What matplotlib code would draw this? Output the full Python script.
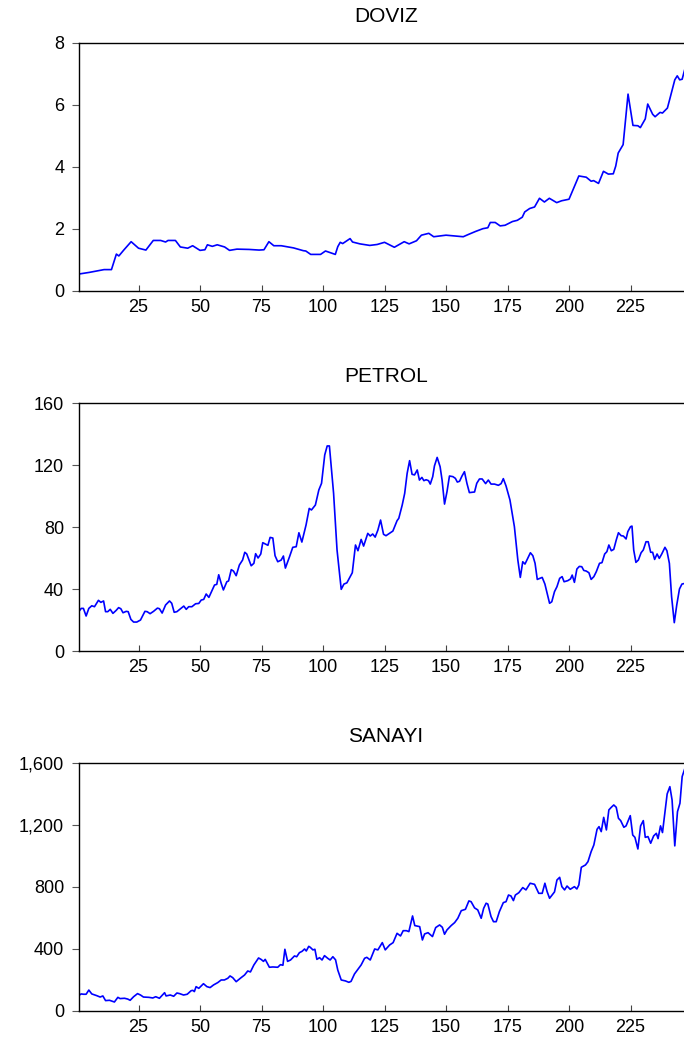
import matplotlib
matplotlib.use("Agg")
import matplotlib.pyplot as plt
from matplotlib.ticker import FuncFormatter

# DOVIZ
doviz_obs = [1, 5, 9, 11, 14, 16, 17, 19, 22, 25, 28, 31, 34, 36, 37, 40, 42, 45, 47, 50,
             52, 53, 55, 57, 60, 62, 65, 70, 74, 76, 78, 80, 83, 88, 92, 93, 95, 99, 101, 105,
             106, 107, 108, 111, 112, 115, 119, 122, 125, 129, 133, 135, 138, 140, 143, 145, 150, 157, 159, 162,
             165, 167, 168, 170, 172, 174, 177, 179, 181, 182, 184, 186, 188, 190, 192, 195, 197, 200, 204, 207,
             209, 210, 212, 214, 216, 218, 219, 220, 222, 224, 226, 228, 229, 231, 232, 234, 235, 237, 238, 240,
             241, 243, 244, 245, 246, 247]
doviz_vals = [0.55, 0.6, 0.66, 0.69, 0.69, 1.19, 1.13, 1.32, 1.59, 1.38, 1.32, 1.63, 1.63, 1.58, 1.63, 1.63, 1.42, 1.38, 1.46, 1.31,
              1.33, 1.49, 1.44, 1.49, 1.42, 1.31, 1.35, 1.34, 1.32, 1.33, 1.59, 1.46, 1.46, 1.39, 1.30, 1.29, 1.18, 1.18, 1.29, 1.18,
              1.43, 1.57, 1.53, 1.69, 1.58, 1.52, 1.47, 1.5, 1.57, 1.41, 1.59, 1.52, 1.62, 1.8, 1.86, 1.75, 1.8, 1.75, 1.82, 1.92,
              2.01, 2.04, 2.21, 2.21, 2.1, 2.12, 2.24, 2.28, 2.38, 2.55, 2.66, 2.71, 2.99, 2.87, 2.99, 2.85, 2.91, 2.96, 3.71, 3.67,
              3.54, 3.56, 3.47, 3.86, 3.77, 3.78, 4.03, 4.45, 4.72, 6.35, 5.34, 5.33, 5.27, 5.55, 6.03, 5.7, 5.62, 5.76, 5.74, 5.9,
              6.2, 6.81, 6.94, 6.81, 6.83, 7.13]

# PETROL
petrol_obs = [1, 1.7, 2.6, 3.7, 4.8, 6, 7.1, 8.7, 9.7, 10.8, 11.6, 12.5, 13.5, 14.6, 15.9, 16.9, 17.8, 18.7, 20, 20.8,
              21.9, 23, 24.3, 25.8, 27.6, 28.5, 29.7, 31.1, 32.7, 33.5, 34.6, 36, 37.6, 38.5, 39.5, 40.6, 42.1, 43.4, 44.4, 45.4,
              46.7, 48.2, 49.5, 50.5, 51.5, 52.5, 53.6, 55.9, 56.8, 57.6, 58.6, 59.5, 60.9, 61.6, 62.7, 63.6, 64.7, 66, 67.3, 68.2,
              69, 70.8, 71.9, 72.6, 73.6, 74.7, 75.5, 76.6, 77.6, 78.5, 79.6, 80.5, 81.6, 83, 83.9, 84.7, 86.4, 87.7, 89.1, 90.2,
              91.4, 93.1, 94.4, 95.3, 96.9, 98.3, 99.4, 100.7, 101.7, 102.6, 104.3, 105.7, 107.4, 108.5, 109.7, 111.9, 113.2, 114.2, 115.5, 116.5,
              118.2, 119.2, 120.2, 121.2, 122.3, 123.4, 124.6, 125.6, 128.4, 130.1, 130.8, 132.2, 133.2, 134.2, 135.2, 136.2, 137.2, 138.3, 139.2, 140.2,
              141, 141.9, 142.9, 143.6, 144.6, 145.3, 146.4, 147.6, 148.4, 149.4, 150.4, 151.4, 152.8, 153.8, 154.6, 155.5, 156.5, 157.5, 158.5, 159.5,
              161.6, 162.5, 163.6, 164.7, 166.1, 167.2, 168.3, 169.7, 171.3, 172.4, 173.3, 174.4, 176, 177.8, 179.2, 180.2, 181.2, 182.1, 183.2, 184.3,
              185.3, 186.2, 187.1, 189.1, 190.2, 191.1, 192.1, 193, 194.1, 195.1, 196.2, 197.2, 198, 199.5, 200.6, 201.3, 202.2, 203.2, 204.2, 205.2,
              206, 207, 208.1, 209, 210.1, 211.1, 212.4, 213.4, 214.5, 215.4, 216.2, 217.2, 218.2, 219.2, 220.1, 221.2, 222.1, 223.2, 223.9, 225,
              225.6, 226.3, 227.2, 228.2, 229.3, 230.2, 231.3, 232.2, 233.2, 234, 234.8, 235.8, 236.7, 237.7, 239, 239.8, 240.8, 241.7, 242.8, 243.8,
              244.9, 245.9, 247]
petrol_vals = [26, 27.5, 27.5, 22.6, 27.5, 29.2, 28.6, 32.7, 31.4, 32.3, 25.4, 25.4, 26.9, 24.3, 26.2, 28, 27.3, 24.7, 25.6, 25.4,
               20.4, 18.7, 18.7, 20, 25.6, 25.4, 24.1, 25.6, 27.7, 27.3, 24.5, 29.7, 32.3, 30.8, 25, 25.4, 27.3, 29, 26.9, 28.6,
               28.6, 30.5, 30.7, 32.9, 33.3, 36.8, 34.6, 42.6, 43, 49.2, 43.7, 39.4, 44.7, 45.2, 52.5, 51.6, 48.6, 55.5, 58.7, 63.7,
               62.6, 55, 56.6, 62.8, 60, 62.6, 69.9, 69, 68.2, 73.3, 72.9, 61.5, 57.6, 58.7, 61.3, 53.5, 60.9, 66.9, 67.3, 76.3,
               70.3, 81.3, 92, 91, 94.2, 103.9, 108.2, 126.5, 132.3, 132.3, 101.7, 65.2, 39.8, 43.2, 44, 50.5, 68.4, 64.7, 72, 67.7,
               75.9, 74.2, 75.5, 73.5, 78, 84.5, 75.3, 74.4, 77.4, 84.1, 85.6, 94.2, 101.7, 114.6, 122.8, 114, 113.6, 116.8, 110.3, 112,
               109.9, 110.5, 109.9, 107.7, 112.5, 119.4, 124.9, 118.9, 110.3, 94.8, 102.8, 112.9, 112.5, 111.4, 109, 109.5, 112.9, 115.7, 108.2, 102.2,
               102.6, 108.2, 111, 111, 108, 110.3, 107.7, 107.7, 106.9, 108, 111.2, 106.5, 97.4, 80.2, 58.7, 47.5, 57.6, 56.1, 59.8, 63.4,
               61.5, 56.6, 46.2, 47.5, 43.2, 37.2, 30.8, 31.8, 38.3, 41.5, 46.9, 48, 44.7, 45.4, 46.5, 49, 44.3, 52.9, 54.6, 54.4,
               52, 51.6, 50.5, 46.2, 48, 51.2, 56.6, 57, 62.6, 64.1, 68.4, 64.7, 65.6, 71.6, 76.3, 74.4, 74.2, 72.3, 77, 80.2,
               80.6, 65.2, 57.2, 58.7, 63.4, 65.2, 70.5, 70.5, 63.7, 63.7, 59.1, 62.6, 59.8, 62.6, 66.9, 64.7, 56.6, 35.1, 18.3, 29.7,
               40, 43.2, 43.6]

# SANAYI
sanayi_obs = [1, 1.7, 2.6, 3.7, 4.8, 6, 8, 9.4, 10.5, 11.6, 13.2, 15.2, 16.6, 17.5, 19.3, 20.6, 21.6, 23, 24.6, 25.8,
              27, 29.2, 30.8, 32, 33.5, 35.6, 36.2, 37.9, 39.3, 40.6, 41.7, 43.3, 44.8, 46.4, 47.1, 47.7, 48.4, 49.5, 51.4, 52.8,
              54.1, 55.5, 57.2, 58.6, 59.9, 61.3, 62.2, 63.3, 64.7, 66.7, 68.1, 69.4, 70.5, 71.9, 73.8, 74.8, 75.8, 76.5, 78.2, 79.6,
              81.6, 82.7, 83.7, 84.5, 85.6, 86.8, 88.4, 89.3, 90.4, 91.5, 92.5, 93.2, 94.2, 94.8, 95.9, 96.7, 97.5, 98.6, 99.6, 100.6,
              101.9, 102.9, 104, 105.1, 106, 107.4, 109.1, 110.5, 111.4, 112.8, 114.1, 115.5, 116.9, 117.8, 119.2, 121, 122.3, 124.1, 125.3, 127.1,
              128.5, 130.1, 131.5, 132.6, 133.9, 134.9, 136.4, 137.3, 139.3, 140.4, 141.3, 142.7, 144.5, 145.8, 147.4, 148.5, 149.4, 150.4, 152.1, 153.5,
              154.8, 156.2, 157.9, 159.3, 160.2, 161.6, 162.9, 164.3, 165.3, 166.3, 167, 168.3, 169.3, 170.4, 171.7, 173.3, 174.4, 175.4, 176.4, 177.4,
              178.2, 179.6, 181.2, 182.5, 184.2, 186, 187.7, 189.1, 190.2, 191.1, 192.1, 194.1, 195.1, 196.2, 197.1, 198.2, 199.2, 200.5, 202.2, 203.2,
              204, 205, 206.7, 207.7, 209, 210.1, 211.4, 212.2, 213.1, 214.1, 215.2, 216.2, 217.2, 218.2, 219.2, 220.1, 221, 222.3, 223.2, 224.9,
              225.9, 226.8, 228, 229.1, 230.2, 231, 232.1, 233.2, 234.4, 235.5, 236.2, 237.2, 238, 239.9, 241, 241.9, 243, 244.1, 245.1, 246,
              247]
sanayi_vals = [103, 110, 108, 108, 135, 110, 99, 90, 97, 67, 69, 58, 88, 80, 82, 77, 69, 92, 112, 103,
               90, 88, 84, 92, 82, 118, 97, 103, 95, 116, 112, 103, 108, 131, 133, 125, 157, 146, 176, 157,
               151, 168, 183, 200, 200, 211, 226, 215, 189, 215, 232, 258, 252, 297, 342, 333, 320, 333, 282, 284,
               282, 299, 295, 398, 320, 329, 355, 350, 376, 385, 400, 387, 417, 411, 394, 398, 333, 344, 329, 357,
               340, 329, 350, 330, 264, 200, 194, 185, 191, 239, 267, 297, 340, 346, 329, 400, 394, 441, 394, 426,
               441, 501, 484, 518, 518, 512, 613, 551, 544, 458, 497, 505, 480, 538, 555, 540, 495, 523, 551, 570,
               598, 647, 656, 710, 705, 665, 652, 598, 662, 695, 690, 609, 576, 576, 641, 699, 705, 748, 742, 712,
               748, 763, 796, 781, 824, 817, 759, 759, 824, 770, 727, 768, 845, 862, 802, 781, 806, 785, 802, 787,
               813, 927, 942, 963, 1028, 1071, 1172, 1189, 1157, 1249, 1168, 1297, 1314, 1329, 1314, 1243, 1228, 1185, 1194, 1260,
               1135, 1120, 1045, 1194, 1228, 1120, 1125, 1082, 1129, 1146, 1112, 1194, 1151, 1400, 1447, 1361, 1065, 1286, 1340, 1512,
               1560]

titles = ["DOVIZ", "PETROL", "SANAYI"]
x_ticks = [25, 50, 75, 100, 125, 150, 175, 200, 225]
y_ticks = [[0, 2, 4, 6, 8], [0, 40, 80, 120, 160], [0, 400, 800, 1200, 1600]]

plt.rcParams['font.family'] = ['Liberation Sans', 'DejaVu Sans']

fig = plt.figure(figsize=(6.84, 10.4), dpi=100)
bottoms = [0.7202, 0.374, 0.0279]
series = [(doviz_obs, doviz_vals), (petrol_obs, petrol_vals), (sanayi_obs, sanayi_vals)]

for i in range(3):
    ax = fig.add_axes([0.1162, bottoms[i], 0.8955, 0.2385])
    obs, vals = series[i]
    ax.plot(obs, vals, color='#0000ff', linewidth=1.2)
    ax.set_xlim(1, 250)
    ax.set_ylim(y_ticks[i][0], y_ticks[i][-1])
    ax.set_xticks(x_ticks)
    ax.set_yticks(y_ticks[i])
    ax.yaxis.set_major_formatter(FuncFormatter(lambda v, p: f"{int(v):,}"))
    ax.tick_params(axis='x', direction='in', length=4, labelsize=13, pad=6, color='#444444')
    ax.tick_params(axis='y', direction='out', length=5, labelsize=13, pad=6, color='#555555')
    ax.spines['right'].set_visible(False)
    for s in ['left', 'top', 'bottom']:
        ax.spines[s].set_linewidth(1.0)
    ax.set_title(titles[i], fontsize=15, pad=15)

fig.savefig("out.png", dpi=100)
